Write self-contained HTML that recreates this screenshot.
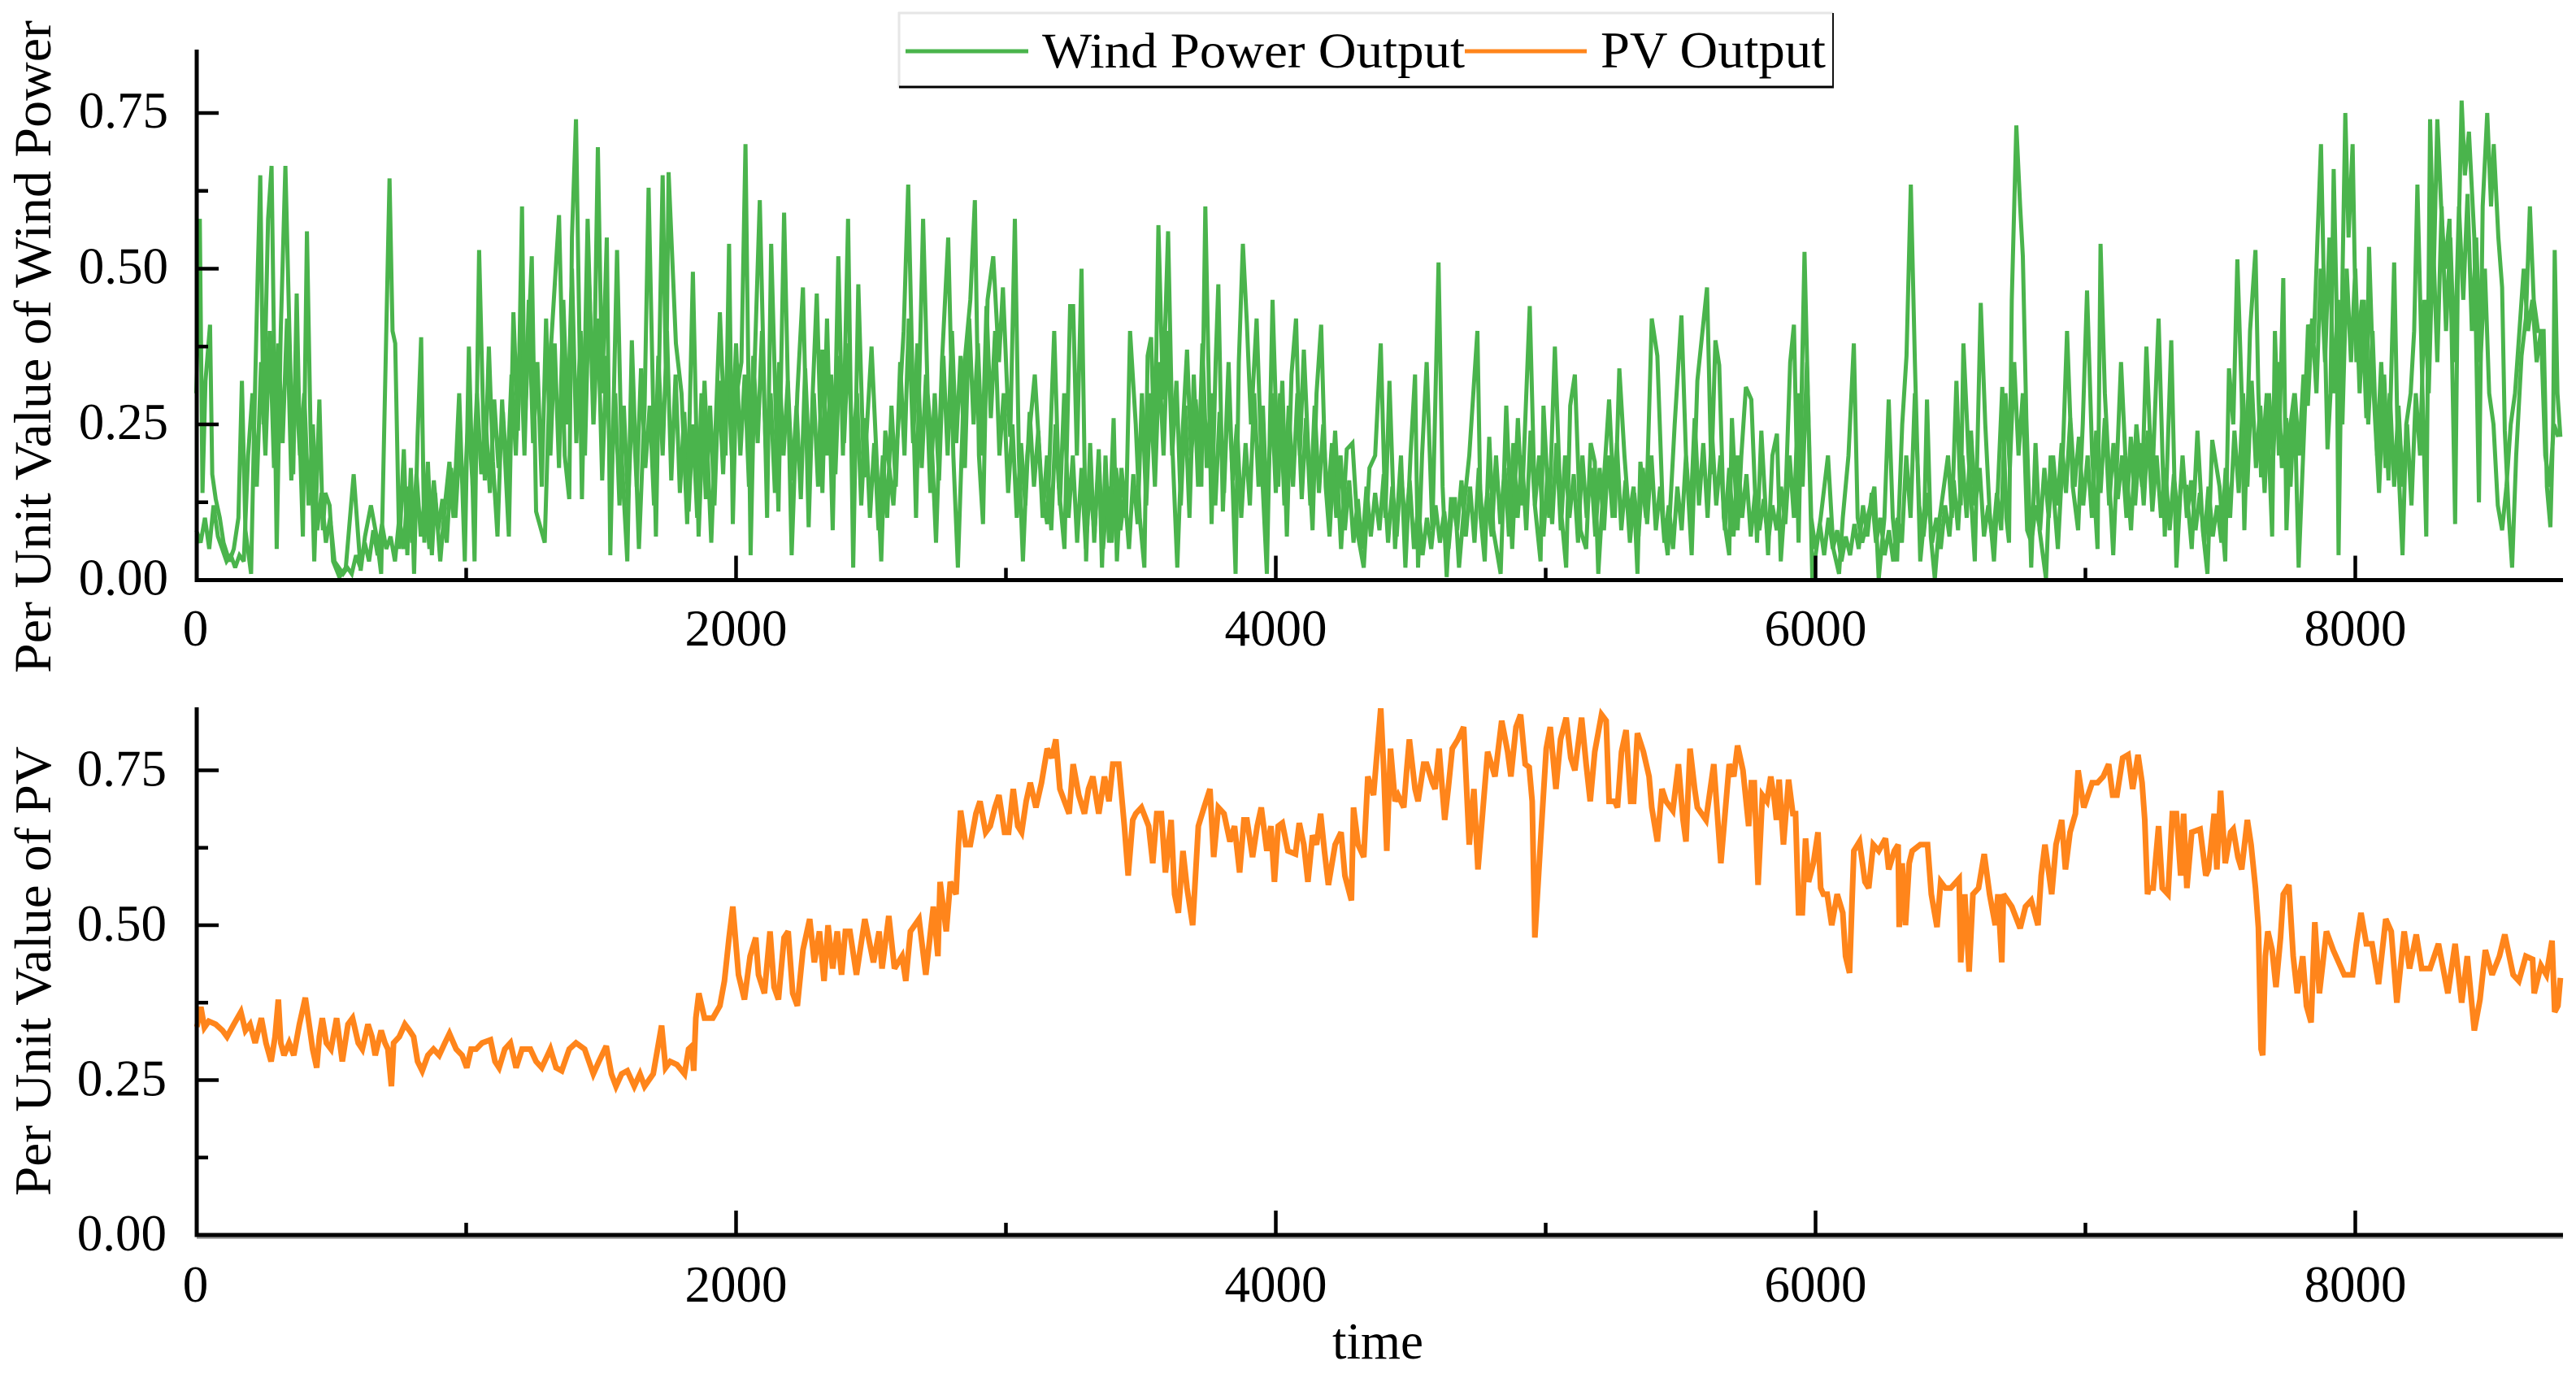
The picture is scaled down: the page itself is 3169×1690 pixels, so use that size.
<!DOCTYPE html>
<html lang="en">
<head>
<meta charset="utf-8">
<title>Per Unit Wind Power and PV Output</title>
<style>
html,body{margin:0;padding:0;background:#fff;width:3169px;height:1690px;overflow:hidden}
svg{display:block}
text{font-family:"Liberation Serif",serif;fill:#000}
</style>
</head>
<body>
<svg id="chart" xmlns="http://www.w3.org/2000/svg" width="3169" height="1690" viewBox="0 0 3169 1690">
  <rect width="3169" height="1690" fill="#fff"/>
  <g id="wind-panel"></g>
  <g id="pv-panel"></g>
  <text transform="translate(62,828) rotate(-90)" font-size="65" textLength="803" lengthAdjust="spacingAndGlyphs">Per Unit Value of Wind Power</text>
  <text transform="translate(62,1471) rotate(-90)" font-size="64" textLength="553" lengthAdjust="spacingAndGlyphs">Per Unit Value of PV</text>
  <text x="1639" y="1671" font-size="63" textLength="112" lengthAdjust="spacingAndGlyphs">time</text>
  <g>
    <rect x="1106" y="16" width="1149" height="91" fill="#fff"/>
    <line x1="1105" y1="16" x2="2255" y2="16" stroke="#e6e6e6" stroke-width="3"/>
    <line x1="1106" y1="15" x2="1106" y2="108" stroke="#e6e6e6" stroke-width="3"/>
    <line x1="1106" y1="107" x2="2256" y2="107" stroke="#000" stroke-width="3"/>
    <line x1="2255" y1="16" x2="2255" y2="108" stroke="#111" stroke-width="2"/>
    <line x1="1114" y1="63" x2="1265" y2="63" stroke="#4ab44c" stroke-width="5"/>
    <text x="1282" y="83" font-size="61" textLength="520" lengthAdjust="spacingAndGlyphs">Wind Power Output</text>
    <line x1="1802" y1="63" x2="1952" y2="63" stroke="#ff851b" stroke-width="5"/>
    <text x="1969" y="83" font-size="63" textLength="277" lengthAdjust="spacingAndGlyphs">PV Output</text>
  </g>
</svg>
<script>
const xMajorTicks = [2000, 4000, 6000, 8000];
const xMinorTicks = [1000, 3000, 5000, 7000];
const xTickLabels = ["0", "2000", "4000", "6000", "8000"];
const xTickLabelValues = [0, 2000, 4000, 6000, 8000];
const yMajorTicks = [0, 0.25, 0.5, 0.75];
const yMinorTicks = [0.125, 0.375, 0.625];
const yTickLabels = ["0.00", "0.25", "0.50", "0.75"];

const windTime = [
0,13,23,34,51,59,72,87,101,123,139,156,169,182,203,213,228,237,249,266,
279,298,313,330,345,359,372,382,395,410,423,437,456,469,478,494,507,530,554,583,
609,625,647,668,685,699,716,727,737,752,769,782,795,807,820,833,845,858,873,885,
904,921,938,953,974,995,1010,1031,1048,1069,1084,1099,1116,1133,1158,1175,1192,1207,1217,1243,
1259,1291,1312,1344,1365,1382,1392,1407,1429,1450,1471,1488,1504,1521,1534,1559,1576,1597,1614,1640,
1661,1676,1703,1728,1741,1750,1777,1798,1819,1840,1861,1883,1908,1940,1961,1974,1988,1999,2020,2035,
2054,2069,2088,2115,2130,2157,2178,2206,2227,2248,2269,2284,2299,2320,2337,2358,2379,2396,2415,2434,
2453,2474,2502,2538,2553,2583,2604,2621,2638,2655,2667,2693,2710,2727,2741,2763,2786,2805,2822,2847,
2868,2885,2900,2915,2932,2953,2974,2989,3005,3016,3033,3048,3063,3079,3107,3132,3153,3179,3196,3217,
3238,3249,3263,3280,3297,3312,3327,3344,3356,3369,3382,3399,3411,3428,3445,3460,3481,3496,3513,3525,
3538,3551,3565,3582,3601,3618,3635,3650,3671,3686,3703,3724,3739,3762,3777,3787,3804,3825,3851,3863,
3878,3893,3908,3929,3946,3967,3988,4009,4024,4041,4058,4075,4089,4104,4121,4136,4151,4168,4185,4199,
4220,4242,4263,4284,4305,4326,4347,4368,4389,4406,4421,4442,4464,4480,4499,4516,4527,4542,4559,4580,
4603,4618,4633,4649,4664,4679,4700,4717,4747,4759,4774,4791,4806,4833,4854,4876,4897,4912,4941,4960,
4981,4992,5013,5034,5055,5076,5091,5108,5129,5150,5167,5182,5195,5214,5235,5256,5273,5292,5309,5326,
5340,5351,5372,5393,5414,5435,5452,5478,5503,5520,5541,5562,5598,5614,5629,5643,5660,5680,5690,5711,
5725,5742,5762,5783,5799,5824,5840,5857,5871,5890,5906,5920,5937,5959,5974,5988,6019,6046,6066,6087,
6101,6122,6142,6156,6173,6193,6218,6234,6255,6271,6286,6302,6321,6337,6353,6368,6388,6403,6413,6427,
6442,6460,6491,6505,6522,6538,6548,6567,6590,6612,6629,6645,6661,6676,6692,6707,6717,6727,6744,6758,
6768,6781,6799,6815,6830,6854,6871,6898,6916,6932,6953,6973,6990,7006,7025,7045,7056,7072,7103,7132,
7148,7169,7189,7210,7226,7247,7271,7294,7318,7337,7353,7374,7394,7415,7435,7452,7470,7497,7518,7532,
7548,7563,7579,7589,7610,7630,7641,7651,7672,7692,7702,7717,7733,7745,7760,7774,7790,7811,7825,7846,
7860,7873,7887,7897,7908,7920,7930,7938,7953,7963,7975,7990,8004,8025,8041,8051,8068,8088,8107,8123,
8144,8158,8175,8189,8205,8218,8230,8246,8263,8277,8291,8304,8318,8332,8349,8359,8370,8380,8394,8406,
8421,8441,8458,8472,8489,8503,8513,8530,8544,8554,8569,8581,8596,8616,8632,8647,8661,8677,8698,8710,
8723,8733,8739,8749,8760
];
const windValue = [
.3,.58,.14,.32,.41,.17,.13,.1,.06,.03,.05,.1,.32,.08,.01,.22,.5,.65,.25,.58,
.665,.05,.4,.665,.4,.17,.46,.25,.07,.56,.25,.03,.29,.08,.14,.12,.03,.005,.02,.17,
.015,.07,.12,.07,.01,.3,.645,.4,.38,.05,.21,.04,.18,.01,.23,.39,.06,.19,.04,.14,
.03,.12,.19,.1,.3,.03,.375,.03,.53,.16,.375,.19,.07,.29,.07,.43,.24,.6,.24,.52,
.11,.06,.36,.586,.2,.13,.55,.74,.13,.58,.25,.695,.3,.55,.04,.53,.2,.03,.385,.05,
.28,.63,.07,.65,.3,.655,.38,.3,.09,.495,.07,.32,.06,.43,.2,.54,.09,.29,.35,.7,
.04,.35,.61,.1,.54,.11,.59,.04,.3,.47,.085,.3,.46,.14,.42,.08,.52,.2,.58,.02,
.475,.165,.375,.03,.24,.12,.27,.4,.635,.3,.1,.58,.3,.2,.06,.35,.55,.2,.02,.35,
.45,.61,.2,.09,.45,.52,.35,.47,.3,.23,.58,.2,.03,.2,.33,.15,.09,.4,.15,.05,
.44,.44,.2,.5,.03,.22,.06,.21,.02,.2,.06,.26,.03,.18,.1,.4,.25,.1,.02,.36,
.39,.2,.57,.29,.56,.2,.02,.2,.37,.2,.29,.15,.6,.09,.35,.475,.11,.35,.01,.35,
.54,.41,.25,.42,.2,.01,.45,.15,.32,.07,.33,.42,.2,.37,.2,.08,.3,.41,.15,.07,
.24,.05,.21,.22,.07,.02,.18,.2,.38,.1,.32,.05,.2,.02,.2,.33,.02,.2,.35,.08,
.51,.15,.005,.13,.13,.02,.13,.2,.4,.1,.03,.23,.08,.01,.28,.05,.26,.12,.44,.12,
.03,.28,.1,.375,.12,.02,.28,.33,.08,.05,.22,.19,.01,.15,.29,.1,.34,.2,.1,.15,
.01,.19,.1,.42,.36,.1,.04,.25,.425,.2,.04,.32,.47,.17,.385,.345,.1,.04,.26,.08,
.2,.31,.29,.06,.24,.04,.2,.235,.03,.15,.35,.41,.06,.527,.25,.002,.1,.2,.05,.01,
.1,.2,.38,.1,.06,.1,.15,.002,.1,.29,.1,.03,.25,.36,.635,.35,.03,.1,.29,.07,
.002,.1,.2,.1,.32,.12,.38,.2,.03,.445,.25,.11,.03,.15,.31,.1,.06,.45,.73,.6,
.52,.26,.02,.22,.08,.002,.2,.05,.2,.4,.15,.08,.25,.465,.2,.05,.54,.3,.04,.35,
.2,.08,.25,.15,.375,.15,.42,.07,.385,.02,.15,.15,.05,.24,.08,.01,.225,.15,.03,.34,
.25,.515,.3,.08,.4,.53,.3,.165,.3,.07,.4,.2,.485,.08,.25,.3,.02,.25,.41,.38,
.55,.7,.4,.21,.3,.66,.45,.04,.5,.75,.55,.7,.35,.45,.26,.535,.3,.14,.33,.16,
.51,.2,.04,.25,.3,.4,.635,.35,.07,.74,.5,.74,.6,.5,.58,.35,.09,.5,.77,.65,
.72,.55,.125,.6,.75,.6,.7,.55,.47,.24,.1,.02,.2,.36,.42,.6,.45,.4,.4,.15,
.085,.25,.53,.3,.23
];
/* Hand-read short-term variation of the wind trace, one sample every windFineStep hours. */
const windFineStep = 16;
const windFineValue = [
.08,.06,.1,.05,.12,.07,.05,.03,.04,.02,.04,.03,.2,.3,.15,.35,.2,.4,.18,.38,.22,.42,.16,.33,.2,
.3,.12,.25,.08,.14,.06,.1,.03,.02,.01,.02,.01,.04,.02,.06,.03,.08,.04,.09,.05,.07,.03,.1,.05,.15,
.06,.17,.07,.14,.05,.16,.08,.13,.06,.18,.1,.22,.12,.27,.15,.3,.17,.26,.14,.29,.18,.27,.16,.33,.2,
.4,.2,.45,.22,.35,.15,.42,.2,.38,.18,.45,.25,.5,.22,.4,.2,.48,.25,.42,.16,.36,.14,.3,.12,.28,
.12,.3,.15,.34,.18,.28,.12,.36,.2,.4,.16,.33,.14,.27,.11,.25,.1,.3,.13,.28,.12,.32,.17,.36,.2,
.38,.2,.33,.15,.36,.22,.4,.18,.3,.14,.35,.2,.32,.16,.28,.13,.34,.18,.3,.15,.37,.2,.33,.17,.36,
.22,.38,.2,.3,.12,.26,.1,.22,.08,.2,.1,.28,.15,.35,.2,.42,.22,.38,.18,.33,.14,.3,.16,.36,.2,
.4,.22,.36,.18,.42,.25,.38,.2,.44,.26,.4,.2,.3,.14,.25,.1,.22,.12,.27,.15,.24,.1,.2,.08,.25,
.12,.3,.1,.2,.06,.18,.05,.16,.07,.2,.05,.15,.06,.18,.08,.14,.05,.17,.09,.3,.12,.3,.15,.35,.2,
.4,.2,.32,.12,.28,.1,.33,.15,.38,.18,.3,.12,.27,.14,.32,.16,.25,.1,.22,.12,.3,.15,.28,.1,.3,
.14,.3,.12,.28,.15,.3,.13,.26,.12,.28,.14,.25,.12,.22,.1,.2,.08,.16,.06,.13,.05,.15,.07,.14,.08,
.17,.06,.15,.07,.18,.08,.16,.05,.12,.04,.1,.05,.12,.06,.11,.05,.13,.08,.16,.07,.15,.06,.18,.08,.14,
.07,.2,.09,.18,.07,.22,.1,.2,.08,.24,.12,.2,.07,.18,.09,.22,.08,.2,.1,.17,.06,.2,.1,.18,.07,
.18,.08,.2,.1,.22,.08,.16,.06,.14,.07,.18,.09,.2,.08,.15,.06,.12,.05,.15,.08,.2,.1,.26,.12,.22,
.1,.24,.12,.2,.08,.18,.07,.2,.1,.17,.07,.14,.08,.13,.06,.12,.08,.15,.09,.2,.1,.3,.15,.35,.1,
.05,.09,.04,.1,.05,.08,.03,.07,.04,.09,.05,.12,.07,.14,.06,.1,.04,.08,.03,.1,.06,.2,.1,.3,.12,
.07,.14,.06,.1,.05,.12,.07,.16,.08,.2,.1,.24,.12,.18,.07,.12,.06,.14,.08,.3,.18,.35,.2,.3,.08,
.06,.12,.08,.18,.1,.2,.12,.22,.14,.26,.15,.23,.12,.2,.1,.24,.14,.26,.12,.22,.13,.2,.1,.23,.12,
.22,.12,.24,.11,.2,.1,.18,.08,.17,.09,.2,.1,.16,.08,.14,.06,.15,.07,.12,.06,.18,.1,.24,.14,.3,
.15,.32,.18,.28,.14,.3,.2,.35,.18,.26,.15,.3,.2,.33,.28,.42,.3,.5,.35,.55,.3,.45,.25,.5,.35,
.5,.3,.45,.25,.4,.2,.35,.18,.3,.15,.28,.15,.25,.12,.3,.2,.45,.3,.55,.35,.6,.4,.55,.35,.6,
.45,.62,.4,.55,.35,.5,.3,.25,.12,.08,.15,.25,.3,.4,.5,.4,.45,.35,.4,.2,.15,.25,.23
];

const pvTime = [
2,17,30,46,72,97,114,139,165,182,199,218,241,258,277,292,304,313,325,344,
361,382,404,418,431,446,456,467,482,499,520,535,541,562,579,600,615,636,651,663,
685,699,710,723,731,752,773,790,805,820,837,858,879,900,921,938,963,985,1002,1018,
1037,1059,1090,1107,1122,1143,1164,1185,1207,1238,1259,1280,1312,1333,1354,1382,1407,1439,1471,1492,
1519,1538,1555,1576,1597,1623,1644,1661,1693,1709,1724,1739,1756,1781,1809,1824,1836,1843,1851,1862,
1883,1914,1940,1957,1974,1988,2009,2031,2052,2073,2083,2105,2126,2141,2157,2178,2193,2210,2227,2248,
2273,2290,2309,2326,2341,2358,2375,2391,2405,2422,2446,2477,2509,2530,2541,2566,2587,2615,2629,2646,
2678,2703,2731,2748,2756,2779,2794,2815,2824,2832,2851,2868,2889,2904,2925,2942,2959,2974,2995,3010,
3027,3044,3058,3075,3090,3111,3132,3153,3170,3185,3200,3217,3234,3249,3270,3291,3306,3322,3344,3365,
3382,3396,3418,3439,3453,3470,3481,3502,3529,3544,3559,3576,3591,3612,3625,3639,3656,3671,3692,3713,
3734,3756,3770,3787,3808,3830,3847,3866,3882,3893,3914,3931,3946,3967,3982,3995,4009,4024,4045,4073,
4087,4104,4119,4136,4151,4166,4180,4195,4220,4242,4256,4280,4288,4305,4326,4341,4362,4389,4400,4411,
4425,4442,4453,4474,4485,4495,4516,4527,4548,4559,4580,4590,4605,4626,4639,4654,4675,4696,4717,4734,
4749,4770,4785,4812,4837,4859,4871,4890,4907,4924,4939,4950,4960,4981,5002,5017,5038,5055,5076,5093,
5108,5133,5150,5165,5182,5207,5224,5235,5256,5266,5281,5298,5315,5326,5340,5362,5383,5393,5414,5431,
5446,5471,5492,5509,5520,5535,5552,5562,5594,5623,5649,5680,5697,5711,5731,5752,5762,5773,5787,5803,
5820,5834,5848,5855,5865,5881,5900,5916,5926,5937,5951,5963,5974,5992,6009,6019,6029,6043,6060,6080,
6101,6111,6126,6136,6142,6163,6183,6197,6214,6234,6259,6271,6292,6306,6310,6321,6333,6347,6358,6388,
6415,6429,6450,6464,6481,6501,6532,6538,6553,6569,6583,6604,6625,6645,6666,6676,6690,6696,6727,6758,
6778,6799,6824,6836,6850,6875,6891,6912,6926,6943,6963,6973,6994,7025,7045,7066,7086,7101,7117,7138,
7158,7175,7195,7210,7220,7230,7236,7251,7271,7285,7306,7322,7337,7353,7364,7376,7394,7425,7446,7456,
7477,7487,7501,7518,7538,7548,7565,7579,7600,7614,7630,7641,7651,7657,7667,7676,7692,7706,7723,7733,
7754,7770,7785,7805,7819,7836,7850,7867,7893,7918,7959,7990,8004,8021,8041,8062,8086,8113,8133,8154,
8181,8201,8226,8246,8277,8308,8343,8370,8394,8415,8441,8462,8482,8507,8534,8554,8585,8606,8632,8657,
8663,8688,8708,8729,8739,8751,8760
];
const pvValue = [
.336,.368,.335,.345,.34,.33,.32,.34,.36,.33,.34,.31,.35,.31,.28,.32,.38,.31,.29,.31,
.29,.34,.383,.34,.3,.27,.32,.35,.31,.3,.35,.3,.28,.34,.35,.31,.3,.34,.32,.29,
.33,.31,.3,.24,.31,.32,.34,.33,.32,.28,.265,.29,.3,.29,.31,.325,.3,.29,.27,.3,
.3,.31,.315,.28,.27,.3,.31,.27,.3,.3,.28,.27,.3,.27,.265,.3,.31,.3,.26,.28,
.305,.26,.24,.26,.265,.24,.26,.24,.26,.3,.338,.27,.28,.275,.26,.3,.305,.265,.35,.39,
.35,.35,.37,.41,.48,.53,.42,.38,.45,.48,.42,.39,.49,.4,.38,.48,.49,.39,.37,.46,
.51,.44,.49,.41,.5,.43,.49,.42,.49,.49,.42,.51,.44,.49,.43,.515,.43,.45,.41,.49,
.51,.42,.53,.45,.57,.49,.57,.55,.63,.685,.63,.63,.68,.7,.65,.66,.69,.71,.65,.65,
.72,.66,.65,.7,.73,.69,.73,.785,.77,.8,.72,.7,.68,.76,.71,.68,.72,.74,.68,.74,
.7,.76,.76,.66,.58,.67,.68,.69,.66,.6,.68,.68,.585,.67,.55,.52,.62,.56,.5,.66,
.69,.72,.61,.69,.68,.635,.66,.585,.67,.67,.61,.66,.69,.62,.66,.57,.66,.665,.62,.615,
.665,.63,.57,.645,.63,.68,.62,.565,.63,.65,.58,.54,.69,.63,.61,.74,.71,.85,.75,.62,
.785,.7,.71,.69,.75,.8,.72,.7,.76,.76,.73,.72,.785,.67,.72,.785,.8,.82,.63,.72,
.59,.7,.78,.74,.83,.78,.74,.82,.84,.76,.755,.7,.48,.635,.785,.82,.72,.8,.835,.77,
.75,.835,.76,.7,.78,.84,.83,.7,.7,.69,.78,.815,.7,.7,.81,.78,.74,.69,.635,.72,
.7,.685,.76,.67,.635,.785,.72,.69,.67,.76,.6,.76,.74,.79,.75,.66,.73,.73,.565,.71,
.7,.74,.7,.67,.735,.63,.735,.68,.68,.52,.52,.64,.57,.6,.65,.56,.55,.55,.5,.55,
.52,.45,.423,.55,.62,.635,.57,.56,.63,.62,.64,.59,.62,.63,.497,.6,.5,.6,.62,.63,
.63,.55,.497,.57,.56,.56,.575,.44,.55,.425,.55,.56,.615,.55,.5,.55,.44,.55,.53,.495,
.53,.54,.5,.58,.63,.55,.63,.67,.59,.65,.68,.75,.69,.73,.73,.74,.76,.71,.71,.77,
.775,.72,.775,.73,.67,.55,.56,.56,.66,.56,.55,.68,.68,.58,.68,.56,.65,.655,.58,.59,
.68,.59,.717,.6,.65,.655,.61,.59,.67,.63,.56,.496,.3,.29,.45,.49,.46,.4,.48,.55,
.565,.45,.39,.45,.37,.343,.505,.39,.49,.46,.42,.42,.47,.52,.47,.47,.405,.51,.49,.375,
.49,.43,.485,.43,.43,.47,.39,.47,.375,.45,.33,.38,.46,.42,.45,.485,.42,.41,.45,.445,
.39,.435,.42,.475,.36,.37,.415
];

const SVG_NS = "http://www.w3.org/2000/svg";
const xScale = t => 241.5 + 0.332 * t;
const AXIS_LEFT = 242;
const AXIS_RIGHT = 3153;

function make(tag, attrs, parent) {
  const el = document.createElementNS(SVG_NS, tag);
  for (const k in attrs) el.setAttribute(k, attrs[k]);
  parent.appendChild(el);
  return el;
}

function drawPanel(cfg) {
  const g = document.getElementById(cfg.id);
  const yScale = v => cfg.y0 - cfg.pxPerUnit * v;

  if (cfg.fineValues) {
    const fine = make("polyline", {
      points: cfg.fineValues.map((v, i) => xScale(i * cfg.fineStep).toFixed(1) + "," + yScale(v).toFixed(1)).join(" "),
      fill: "none", stroke: cfg.color, "stroke-width": 5, "stroke-linejoin": "miter", "stroke-miterlimit": 3
    }, g);
    
    
  }

  const series = make("polyline", {
    points: cfg.times.map((t, i) => xScale(t).toFixed(1) + "," + yScale(cfg.values[i]).toFixed(1)).join(" "),
    fill: "none", stroke: cfg.color, "stroke-width": cfg.strokeWidth, "stroke-linejoin": "miter", "stroke-miterlimit": 3
  }, g);
  
  

  if (cfg.shadow) {
    const sh = make("line", { x1: AXIS_LEFT, y1: cfg.y0 + 3.5, x2: AXIS_RIGHT, y2: cfg.y0 + 3.5, stroke: "#999", "stroke-width": 2.5 }, g);
    
    
  }

  const xAxis = make("line", { x1: AXIS_LEFT - 2.5, y1: cfg.y0, x2: AXIS_RIGHT, y2: cfg.y0, stroke: "#000", "stroke-width": 5 }, g);
  
  

  const yAxis = make("line", { x1: AXIS_LEFT, y1: cfg.yTop, x2: AXIS_LEFT, y2: cfg.y0 + 2.5, stroke: "#000", "stroke-width": 5 }, g);
  
  

  xMajorTicks.forEach(t => {
    const tick = make("line", { x1: xScale(t), y1: cfg.y0, x2: xScale(t), y2: cfg.y0 - 30, stroke: "#000", "stroke-width": 4.5 }, g);
    
    
  });
  xMinorTicks.forEach(t => {
    const tick = make("line", { x1: xScale(t), y1: cfg.y0, x2: xScale(t), y2: cfg.y0 - 15, stroke: "#000", "stroke-width": 4.5 }, g);
    
    
  });
  yMajorTicks.forEach(v => {
    if (v === 0) return;
    const tick = make("line", { x1: AXIS_LEFT, y1: yScale(v), x2: AXIS_LEFT + 27, y2: yScale(v), stroke: "#000", "stroke-width": 4.5 }, g);
    
    
  });
  yMinorTicks.forEach(v => {
    const tick = make("line", { x1: AXIS_LEFT, y1: yScale(v), x2: AXIS_LEFT + 14, y2: yScale(v), stroke: "#000", "stroke-width": 4.5 }, g);
    
    
  });

  xTickLabels.forEach((label, i) => {
    const el = make("text", { x: i === 0 ? xScale(0) - 1 : xScale(xTickLabelValues[i]), y: cfg.xLabelY, "font-size": 63, "text-anchor": "middle" }, g);
    el.textContent = label;
    
    
  });
  yTickLabels.forEach((label, i) => {
    const el = make("text", { x: cfg.yLabelX, y: yScale(yMajorTicks[i]) + cfg.yLabelDy, "font-size": 63, "text-anchor": "end" }, g);
    el.textContent = label;
    
    
  });
}

drawPanel({ id: "wind-panel", prefix: "wind", times: windTime, values: windValue, color: "#4ab44c", strokeWidth: 5,
  fineValues: windFineValue, fineStep: windFineStep,
  y0: 713.5, pxPerUnit: 766, yTop: 61, xLabelY: 794, yLabelX: 207, yLabelDy: 18, shadow: false });
drawPanel({ id: "pv-panel", prefix: "pv", times: pvTime, values: pvValue, color: "#ff851b", strokeWidth: 7,
  y0: 1519, pxPerUnit: 762, yTop: 870, xLabelY: 1601, yLabelX: 205, yLabelDy: 19, shadow: true });
</script>
</body>
</html>
